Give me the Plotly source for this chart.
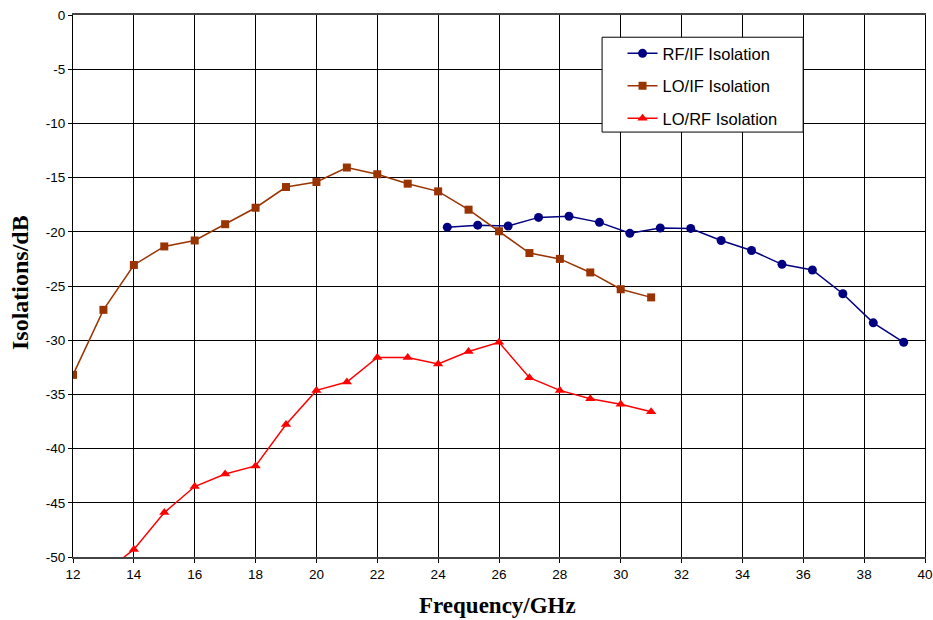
import plotly.graph_objects as go

# ---- data ----
rf_if_freq = [24.3, 25.3, 26.3, 27.3, 28.3, 29.3, 30.3, 31.3, 32.3, 33.3, 34.3, 35.3, 36.3, 37.3, 38.3, 39.3]
rf_if_iso = [-19.57, -19.39, -19.46, -18.67, -18.57, -19.13, -20.14, -19.65, -19.69, -20.8, -21.73, -23.0, -23.52, -25.71, -28.4, -30.19]

lo_if_freq = [12, 13, 14, 15, 16, 17, 18, 19, 20, 21, 22, 23, 24, 25, 26, 27, 28, 29, 30, 31]
lo_if_iso = [-33.2, -27.2, -23.06, -21.35, -20.8, -19.3, -17.78, -15.87, -15.41, -14.07, -14.69, -15.56,
             -16.27, -17.96, -19.95, -21.96, -22.5, -23.75, -25.3, -26.05]

lo_rf_freq = [13, 14, 15, 16, 17, 18, 19, 20, 21, 22, 23, 24, 25, 26, 27, 28, 29, 30, 31]
lo_rf_iso = [-51.5, -49.3, -45.9, -43.5, -42.35, -41.6, -37.78, -34.63, -33.86, -31.6, -31.6, -32.2,
             -31.05, -30.2, -33.46, -34.63, -35.4, -35.9, -36.6]

x_ticks = list(range(12, 41, 2))
y_ticks = list(range(-50, 1, 5))

fig = go.Figure()
fig.add_trace(go.Scatter(x=rf_if_freq, y=rf_if_iso, mode="lines+markers", name="RF/IF Isolation",
                         legendgroup="a",
                         line=dict(color="#000080", width=1.5),
                         marker=dict(symbol="circle", size=9, color="#000080")))
fig.add_trace(go.Scatter(x=lo_if_freq, y=lo_if_iso, mode="lines+markers", name="LO/IF Isolation",
                         legendgroup="b",
                         line=dict(color="#993300", width=1.5),
                         marker=dict(symbol="square", size=8, color="#993300")))
fig.add_trace(go.Scatter(x=lo_rf_freq, y=lo_rf_iso, mode="lines+markers", name="LO/RF Isolation",
                         legendgroup="c",
                         line=dict(color="#FF0000", width=1.5),
                         marker=dict(symbol="triangle-up", size=9, color="#FF0000")))

serif = "Liberation Serif, Times New Roman, serif"

fig.update_layout(
    width=933, height=620,
    margin=dict(l=73, r=8, t=15, b=63),
    paper_bgcolor="white", plot_bgcolor="white",
    font=dict(family="Liberation Sans, Arial, sans-serif", size=13.5, color="black"),
    showlegend=True,
    legend=dict(x=0.645, y=0.961, xanchor="left", yanchor="top",
                bgcolor="rgba(0,0,0,0)", borderwidth=0,
                font=dict(size=16.5, family="Liberation Sans, Arial, sans-serif"),
                tracegroupgap=8, itemwidth=30),
    shapes=[dict(type="rect", xref="paper", yref="paper",
                 x0=0.621, x1=0.857, y0=0.784, y1=0.959,
                 line=dict(color="black", width=1), fillcolor="white", layer="above")],
    xaxis=dict(range=[12, 40], tickvals=x_ticks, ticktext=[str(v) for v in x_ticks],
               showgrid=True, gridcolor="black", gridwidth=1,
               showline=True, linecolor="#444", linewidth=2, mirror=True,
               ticks="outside", ticklen=4, tickcolor="black", zeroline=False,
               automargin=False, ticklabeloverflow="allow"),
    yaxis=dict(range=[-50, 0], tickvals=y_ticks, ticktext=[str(v) for v in y_ticks],
               showgrid=True, gridcolor="black", gridwidth=1,
               showline=True, linecolor="black", linewidth=1, mirror=True,
               ticks="outside", ticklen=4, tickcolor="black", zeroline=False,
               automargin=False, ticklabeloverflow="allow"),
    annotations=[
        dict(text="<b>Frequency/GHz</b>", xref="paper", yref="paper", x=0.4977, y=-0.0904,
             xanchor="center", yanchor="middle", showarrow=False,
             font=dict(family=serif, size=23, color="black")),
        dict(text="<b>Isolations/dB</b>", xref="paper", yref="paper", x=-0.0622, y=0.5055,
             xanchor="center", yanchor="middle", showarrow=False, textangle=-90,
             font=dict(family=serif, size=24, color="black")),
    ],
)

# remove the default 8px page margin so the figure fills the window exactly
fig.write_html("out.html", config={"displayModeBar": False},
               post_script="document.body.style.margin='0px';")
